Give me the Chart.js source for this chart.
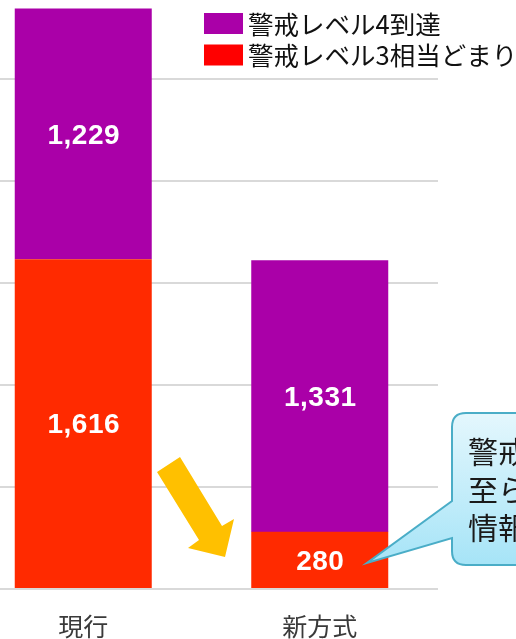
<!DOCTYPE html>
<html>
<head>
<meta charset="utf-8">
<script src="https://cdn.jsdelivr.net/npm/chart.js@4"></script>
<style>
html,body{margin:0;padding:0;background:#fff;}
#wrap{position:relative;width:516px;height:639px;overflow:hidden;}
#c{position:absolute;left:-35px;top:0;}
</style>
</head>
<body>
<div id="wrap"><canvas id="c" width="551" height="660"></canvas></div>
<script>
const categories = ['現行', '新方式'];
const level3Values = [1616, 280];
const level4Values = [1229, 1331];
const seriesNames = ['警戒レベル3相当どまり', '警戒レベル4到達'];
const yTicks = [0, 500, 1000, 1500, 2000, 2500];
const barColors = ['#FF2A00', '#AA00A8'];
const legendColors = ['#FF0000', '#AA00A8'];
const calloutLines = ['警戒レベル4に', '至らない', '情報を削減'];

const OFF = 35;
const CJK = '"Noto Sans CJK JP", "Noto Sans", sans-serif';

const overlay = {
  id: 'overlay',
  afterDatasetsDraw(chart) {
    const ctx = chart.ctx;
    ctx.save();
    ctx.fillStyle = '#fff';
    ctx.font = 'bold 28px "Liberation Sans", Arial, sans-serif';
    ctx.letterSpacing = '0.5px';
    ctx.textAlign = 'center';
    ctx.textBaseline = 'middle';
    chart.data.datasets.forEach((ds, di) => {
      const meta = chart.getDatasetMeta(di);
      meta.data.forEach((el, i) => {
        const v = ds.data[i];
        const cy = (el.y + el.base) / 2 + 2;
        ctx.fillText(v.toLocaleString('en-US'), el.x + 0.5, cy);
      });
    });
    ctx.restore();
  },
  afterDraw(chart) {
    const ctx = chart.ctx;
    ctx.save();
    ctx.translate(OFF, 0);
    const order = [1, 0];
    ctx.font = '25.5px ' + CJK;
    ctx.textBaseline = 'middle';
    ctx.textAlign = 'left';
    order.forEach((di, k) => {
      const y = 13 + k * 31.5;
      ctx.fillStyle = legendColors[di];
      ctx.fillRect(204, y, 39, 21);
      ctx.fillStyle = '#111';
      ctx.fillText(chart.data.datasets[di].label, 248, y + 11);
    });

    // arrow
    ctx.fillStyle = '#FFC000';
    ctx.beginPath();
    ctx.moveTo(157, 472);
    ctx.lineTo(180, 457);
    ctx.lineTo(222, 526);
    ctx.lineTo(234, 519);
    ctx.lineTo(225, 557);
    ctx.lineTo(188, 548);
    ctx.lineTo(199, 540);
    ctx.closePath();
    ctx.fill();

    // callout
    const L = 452, T = 413, B = 565, R = 560, r = 14;
    ctx.beginPath();
    ctx.moveTo(L + r, T);
    ctx.lineTo(R, T);
    ctx.lineTo(R, B);
    ctx.lineTo(L + r, B);
    ctx.quadraticCurveTo(L, B, L, B - r);
    ctx.lineTo(L, 538);
    ctx.lineTo(367, 563);
    ctx.lineTo(L, 501);
    ctx.lineTo(L, T + r);
    ctx.quadraticCurveTo(L, T, L + r, T);
    ctx.closePath();
    const g = ctx.createLinearGradient(0, T, 0, B);
    g.addColorStop(0, '#E4F7FD');
    g.addColorStop(1, '#A6E4F7');
    ctx.fillStyle = g;
    ctx.fill();
    ctx.strokeStyle = '#4AADC7';
    ctx.lineWidth = 2;
    ctx.stroke();

    ctx.fillStyle = '#1a1a1a';
    ctx.font = '30px ' + CJK;
    ctx.textBaseline = 'middle';
    calloutLines.forEach((t, i) => {
      ctx.fillText(t, 468, 452 + i * 38);
    });
    ctx.restore();
  }
};

new Chart(document.getElementById('c'), {
  type: 'bar',
  data: {
    labels: categories,
    datasets: [
      { label: seriesNames[0], data: level3Values, backgroundColor: barColors[0], borderWidth: 0 },
      { label: seriesNames[1], data: level4Values, backgroundColor: barColors[1], borderWidth: 0 }
    ]
  },
  options: {
    responsive: false,
    animation: false,
    devicePixelRatio: 1,
    layout: { padding: { left: 0, right: 78, top: 0, bottom: 0 } },
    datasets: { bar: { barPercentage: 137 / 236.5, categoryPercentage: 1 } },
    plugins: { legend: { display: false }, tooltip: { enabled: false } },
    scales: {
      x: {
        stacked: true,
        grid: { display: false, drawTicks: false },
        border: { display: false },
        ticks: { color: '#3a3a3a', font: { size: 25, family: CJK }, padding: 22 },
        afterFit(s) { s.height = 71; }
      },
      y: {
        stacked: true,
        min: 0,
        max: 2887,
        ticks: { display: false },
        afterBuildTicks(s) { s.ticks = yTicks.map(v => ({ value: v })); },
        grid: { color: '#D9D9D9', lineWidth: 2, drawTicks: false },
        border: { display: false },
        afterFit(s) { s.width = 0; }
      }
    }
  },
  plugins: [overlay]
});
</script>
</body>
</html>
